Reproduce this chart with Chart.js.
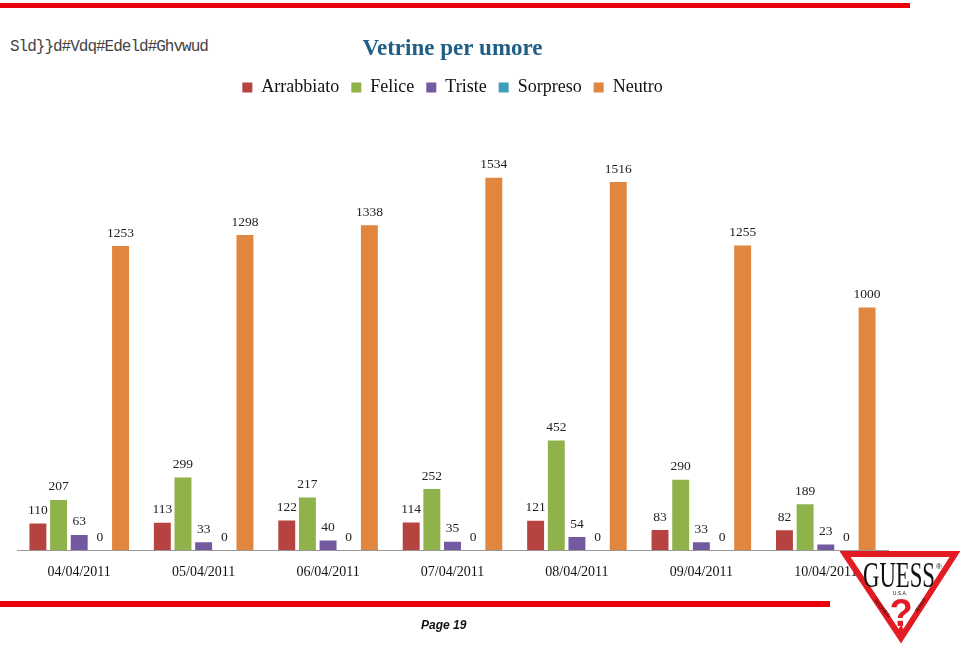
<!DOCTYPE html>
<html>
<head>
<meta charset="utf-8">
<script src="https://cdn.jsdelivr.net/npm/chart.js@4.4.0/dist/chart.umd.min.js"></script>
<style>
  html, body { margin: 0; padding: 0; background: #fff; }
  #page { position: relative; width: 960px; height: 651px; overflow: hidden; }
  #wrap { position: absolute; left: 0; top: 0; width: 960px; height: 651px; }
  .bar-top { position: absolute; left: 0; top: 3px; width: 910px; height: 5px; background: #e8000b; }
  .bar-bottom { position: absolute; left: 0; top: 601px; width: 830px; height: 6px; background: #e8000b; }
  .store { position: absolute; left: 10px; top: 38px; font: 16px "Liberation Mono", monospace; color: #444; letter-spacing: -1px; }
  .page { position: absolute; left: 421px; top: 618px; font: italic bold 12px "Liberation Sans", sans-serif; color: #111; }
  #logo { position: absolute; left: 840px; top: 549px; }
</style>
</head>
<body>
<div id="page">
  <div class="bar-top"></div>
  <div class="store">Sld}}d#Vdq#Edeld#Ghvwud</div>
  <div id="wrap"><canvas id="chartMood"></canvas></div>
  <div class="bar-bottom"></div>
  <div class="page">Page 19</div>
  <svg id="logo" width="120" height="95" viewBox="0 0 120 95">
    <polygon points="5,5 115,5 61,89" fill="#fff" stroke="#e31b23" stroke-width="6" stroke-linejoin="miter"/>
    <text x="59" y="38" text-anchor="middle" font-family="Liberation Serif" font-size="36" fill="#111" textLength="72" lengthAdjust="spacingAndGlyphs">GUESS</text>
    <text x="96" y="20" font-family="Liberation Sans" font-size="8" fill="#111">®</text>
    <text x="60" y="46" text-anchor="middle" font-family="Liberation Sans" font-size="5" fill="#111">U.S.A.</text>
    <text x="61" y="77" text-anchor="middle" font-family="Liberation Sans" font-weight="bold" font-size="38" fill="#e31b23">?</text>
    <polygon points="56,84 66,84 61,76" fill="#e31b23"/>
    <text x="34" y="52" font-family="Liberation Sans" font-size="5" fill="#111" transform="rotate(50 34 52)">WASHED</text>
    <text x="77" y="64" font-family="Liberation Sans" font-size="5" fill="#111" transform="rotate(-55 77 64)">JEANS</text>
  </svg>
</div>
<script>
//Categorie (date)
const days = ["04/04/2011", "05/04/2011", "06/04/2011", "07/04/2011", "08/04/2011", "09/04/2011", "10/04/2011"];

//Serie per umore
const arrabbiato = [110, 113, 122, 114, 121, 83, 82];
const felice = [207, 299, 217, 252, 452, 290, 189];
const triste = [63, 33, 40, 35, 54, 33, 23];
const sorpreso = [0, 0, 0, 0, 0, 0, 0];
const neutro = [1253, 1298, 1338, 1534, 1516, 1255, 1000];

const SERIF = "'Liberation Serif', 'Times New Roman', serif";

//Etichette sopra le barre
const valueLabels = {
  id: "valueLabels",
  afterDatasetsDraw(chart) {
    const ctx = chart.ctx;
    ctx.save();
    ctx.font = "13.5px " + SERIF;
    ctx.fillStyle = "#222";
    ctx.textAlign = "center";
    ctx.textBaseline = "middle";
    chart.data.datasets.forEach((ds, i) => {
      const meta = chart.getDatasetMeta(i);
      meta.data.forEach((el, j) => {
        ctx.fillText(String(ds.data[j]), el.x, el.y - 13);
      });
    });
    ctx.restore();
  }
};

new Chart(document.getElementById("chartMood"), {
  type: "bar",
  data: {
    labels: days,
    datasets: [
      { label: "Arrabbiato", data: arrabbiato, backgroundColor: "#b6433f" },
      { label: "Felice", data: felice, backgroundColor: "#8fb24a" },
      { label: "Triste", data: triste, backgroundColor: "#7359a0" },
      { label: "Sorpreso", data: sorpreso, backgroundColor: "#3f9fb8" },
      { label: "Neutro", data: neutro, backgroundColor: "#e0863f" }
    ]
  },
  options: {
    responsive: true, maintainAspectRatio: false, animation: false,
    categoryPercentage: 0.83, barPercentage: 0.82,
    layout: { padding: { left: 17, right: 72, top: 35, bottom: 64 } },
    plugins: {
      title: {
        display: true, text: "Vetrine per umore", color: "#1f5f86",
        font: { family: SERIF, size: 23, weight: "bold" },
        padding: { top: 0, bottom: 4 }
      },
      legend: {
        position: "top",
        labels: {
          color: "#111", boxWidth: 10, boxHeight: 10, padding: 12,
          font: { family: SERIF, size: 18 }
        }
      },
      tooltip: { enabled: false }
    },
    scales: {
      x: {
        grid: { display: false },
        border: { display: true, color: "#999" },
        ticks: { color: "#111", padding: 6, font: { family: SERIF, size: 14 }, maxRotation: 0 }
      },
      y: { display: false, min: 0, max: 1827 }
    }
  },
  plugins: [valueLabels]
});
</script>
</body>
</html>
